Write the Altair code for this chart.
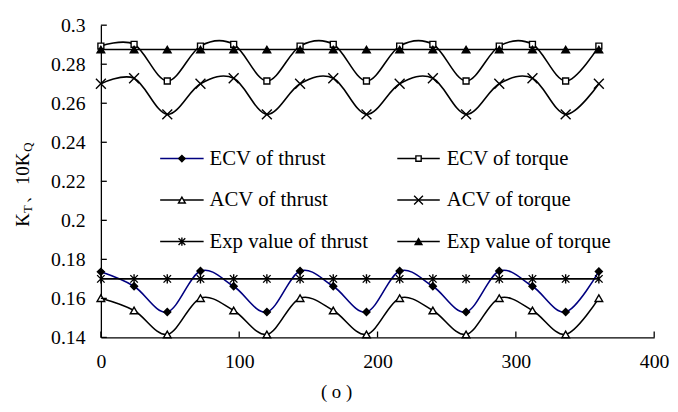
import altair as alt
import pandas as pd

# ---------------- data ----------------
angle = [0, 24, 48, 72, 96, 120, 144, 168, 192, 216, 240, 264, 288, 312, 336, 360]

ecv_thrust = [0.1736, 0.1662, 0.1530, 0.1740, 0.1662, 0.1530, 0.1740, 0.1662,
              0.1530, 0.1740, 0.1662, 0.1530, 0.1740, 0.1662, 0.1530, 0.1738]
ecv_torque = [0.2893, 0.2902, 0.2714, 0.2893, 0.2902, 0.2714, 0.2893, 0.2902,
              0.2714, 0.2893, 0.2902, 0.2714, 0.2893, 0.2902, 0.2714, 0.2893]
acv_thrust = [0.1601, 0.1538, 0.1415, 0.1601, 0.1538, 0.1415, 0.1601, 0.1538,
              0.1415, 0.1601, 0.1538, 0.1415, 0.1601, 0.1538, 0.1415, 0.1601]
acv_torque = [0.2700, 0.2728, 0.2543, 0.2700, 0.2728, 0.2543, 0.2700, 0.2728,
              0.2543, 0.2700, 0.2728, 0.2543, 0.2700, 0.2728, 0.2543, 0.2700]
exp_thrust = [0.1700, 0.1700, 0.1700, 0.1700, 0.1700, 0.1700, 0.1700, 0.1700,
              0.1700, 0.1700, 0.1700, 0.1700, 0.1700, 0.1700, 0.1700, 0.1700]
exp_torque = [0.2875, 0.2875, 0.2875, 0.2875, 0.2875, 0.2875, 0.2875, 0.2875,
              0.2875, 0.2875, 0.2875, 0.2875, 0.2875, 0.2875, 0.2875, 0.2875]

series_names = ["ECV of thrust", "ECV of torque", "ACV of thrust",
                "ACV of torque", "Exp value of thrust", "Exp value of torque"]
series_values = [ecv_thrust, ecv_torque, acv_thrust, acv_torque, exp_thrust, exp_torque]

x_ticks = [0, 100, 200, 300, 400]
y_ticks = [0.14, 0.16, 0.18, 0.2, 0.22, 0.24, 0.26, 0.28, 0.3]

# ---------------- styles ----------------
FONT = "Liberation Serif"
W, H = 560, 316
X_PATH = "M-1,-1L1,1M-1,1L1,-1"
AST_PATH = "M0,-1L0,1M-0.8,-0.8L0.8,0.8M-0.8,0.8L0.8,-0.8"
styles = [
    dict(line="#000080", shape="diamond", fill="black", size=50, filled=True),
    dict(line="black", shape="square", fill="white", size=36, filled=True),
    dict(line="black", shape="triangle-up", fill="white", size=60, filled=True),
    dict(line="black", shape=X_PATH, fill="none", size=100, filled=False),
    dict(line="black", shape=AST_PATH, fill="none", size=90, filled=False),
    dict(line="black", shape="triangle-up", fill="black", size=60, filled=True),
]

xscale = alt.Scale(domain=[0, 400], nice=False, zero=False)
yscale = alt.Scale(domain=[0.14, 0.3], nice=False, zero=False)
axis_common = dict(tickSize=0, grid=False, labelFont=FONT, labelFontSize=20,
                   labelColor="black", domainColor="black", domainWidth=1.3,
                   labelFlush=False, labelOverlap=False)
xaxis = alt.Axis(values=x_ticks, labelPadding=14, title="( o )", titleX=238,
                 titleY=55, titleBaseline="middle", titleFont=FONT,
                 titleFontSize=19, titleFontWeight="normal", titleColor="black",
                 format="d", **axis_common)
yaxis = alt.Axis(values=y_ticks, labelPadding=16, title="", format=".2~f",
                 **axis_common)

X = alt.X("angle:Q", scale=xscale, axis=xaxis)
Y = alt.Y("value:Q", scale=yscale, axis=yaxis)

layers = []
for name, vals, st in zip(series_names, series_values, styles):
    df = pd.DataFrame({"angle": angle, "value": vals, "series": name})
    base = alt.Chart(df)
    layers.append(base.mark_line(color=st["line"], strokeWidth=1.6,
                                 interpolate="cardinal").encode(x=X, y=Y))
    pt_kw = dict(shape=st["shape"], size=st["size"], stroke="black",
                 strokeWidth=1.4, opacity=1, filled=st["filled"])
    if st["filled"]:
        pt_kw["fill"] = st["fill"]
    layers.append(base.mark_point(**pt_kw).encode(x=X, y=Y))

# inward tick marks on both axes
layers.append(alt.Chart(pd.DataFrame({"value": y_ticks})).mark_rule(
    color="black", strokeWidth=1.3).encode(y=Y, x=alt.value(0), x2=alt.value(6)))
layers.append(alt.Chart(pd.DataFrame({"angle": x_ticks})).mark_rule(
    color="black", strokeWidth=1.3).encode(x=X, y=alt.value(H), y2=alt.value(H - 6)))

# ---------------- legend (inside the plot, two columns) ----------------
one = pd.DataFrame({"d": [0]})
col_x = [(60, 104, 110), (300, 343, 350)]
row_y = [135, 177, 219]
for i, (name, st) in enumerate(zip(series_names, styles)):
    r, c = divmod(i, 2)
    x1, x2, tx = col_x[c]
    yy = row_y[r]
    lb = alt.Chart(one)
    layers.append(lb.mark_rule(color=st["line"], strokeWidth=1.6).encode(
        x=alt.value(x1), x2=alt.value(x2), y=alt.value(yy)))
    pt_kw = dict(shape=st["shape"], size=st["size"] * 0.8, stroke="black",
                 strokeWidth=1.4, opacity=1, filled=st["filled"])
    if st["filled"]:
        pt_kw["fill"] = st["fill"]
    layers.append(lb.mark_point(**pt_kw).encode(
        x=alt.value((x1 + x2) / 2), y=alt.value(yy)))
    layers.append(lb.mark_text(text=name, font=FONT, fontSize=21, align="left",
                               baseline="middle", color="black").encode(
        x=alt.value(tx), y=alt.value(yy)))

# ---------------- y-axis title with subscripts ----------------
title_parts = [("K", 19, -79, 204), ("T", 13, -74, 190),
               ("\u300110K", 19, -79, 181), ("Q", 13, -74, 128)]
for txt, fs, xx, yy in title_parts:
    layers.append(alt.Chart(one).mark_text(
        text=txt, font=FONT, fontSize=fs, angle=270, align="left",
        baseline="middle", color="black").encode(x=alt.value(xx), y=alt.value(yy)))

chart = alt.layer(*layers).properties(
    width=W, height=H,
    padding={"left": 94, "top": 15, "right": 16, "bottom": 66},
    autosize=alt.AutoSizeParams(type="none"),
).configure(font=FONT, background="white").configure_view(stroke="transparent")

chart.save("out.html", embed_options={"renderer": "svg", "actions": False})
